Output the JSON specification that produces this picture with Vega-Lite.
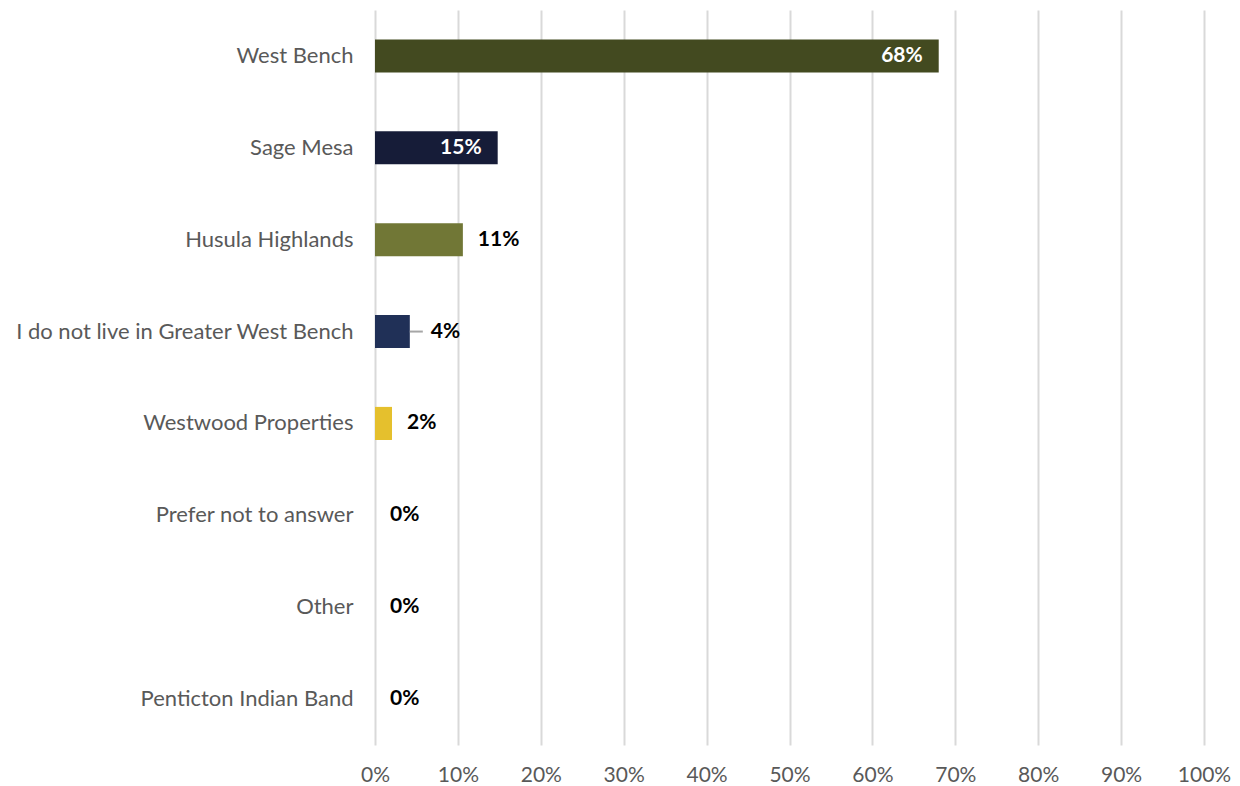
{
  "$schema": "https://vega.github.io/schema/vega-lite/v6.json",
  "autosize": "none",
  "padding": {"left": 375, "top": 10, "right": 36, "bottom": 41},
  "width": 829,
  "height": 735,
  "config": {
    "view": {"stroke": null},
    "font": "Lato"
  },
  "data": {
    "values": [
      {"area": "West Bench", "value": 0.680, "color": "#434a20"},
      {"area": "Sage Mesa", "value": 0.148, "color": "#161c38"},
      {"area": "Husula Highlands", "value": 0.106, "color": "#717736"},
      {"area": "I do not live in Greater West Bench", "value": 0.042, "color": "#203057"},
      {"area": "Westwood Properties", "value": 0.0205, "color": "#e5c02d"},
      {"area": "Prefer not to answer", "value": 0, "color": "#8a8a8a"},
      {"area": "Other", "value": 0, "color": "#8a8a8a"},
      {"area": "Penticton Indian Band", "value": 0, "color": "#8a8a8a"}
    ]
  },
  "encoding": {
    "y": {
      "field": "area", "type": "nominal", "sort": null,
      "scale": {"paddingInner": 0.64, "paddingOuter": 0.32},
      "axis": {"title": null, "domain": false, "ticks": false, "labelFontSize": 22, "labelColor": "#595959", "labelPadding": 22, "labelFont": "Lato", "labelLimit": 400}
    }
  },
  "layer": [
    {
      "mark": {"type": "bar"},
      "encoding": {
        "x": {
          "field": "value", "type": "quantitative",
          "scale": {"domain": [0, 1], "nice": false},
          "axis": {"title": null, "format": ".0%", "values": [0,0.1,0.2,0.3,0.4,0.5,0.6,0.7,0.8,0.9,1], "domain": false, "ticks": false, "grid": true, "gridColor": "#d9d9d9", "gridWidth": 2, "labelFontSize": 21, "labelColor": "#595959", "labelPadding": 19, "labelFont": "Lato", "labelFlush": false, "labelOverlap": false, "labelBound": false}
        },
        "color": {"field": "color", "type": "nominal", "scale": null}
      }
    },
    {
      "transform": [{"filter": "datum.area == 'I do not live in Greater West Bench'"}],
      "mark": {"type": "rule", "color": "#a6a6a6", "strokeWidth": 2, "x2Offset": 13},
      "encoding": {
        "x": {"field": "value", "type": "quantitative"},
        "x2": {"field": "value"}
      }
    },
    {
      "transform": [{"filter": "datum.value > 0.12"}],
      "mark": {"type": "text", "align": "right", "baseline": "middle", "dx": -16, "fontSize": 21, "fontWeight": "bold", "color": "white", "font": "Lato"},
      "encoding": {
        "x": {"field": "value", "type": "quantitative"},
        "text": {"field": "value", "type": "quantitative", "format": ".0%"}
      }
    },
    {
      "transform": [{"filter": "datum.value <= 0.12 && datum.area != 'I do not live in Greater West Bench'"}],
      "mark": {"type": "text", "align": "left", "baseline": "middle", "dx": 15, "fontSize": 21, "fontWeight": "bold", "color": "black", "font": "Lato"},
      "encoding": {
        "x": {"field": "value", "type": "quantitative"},
        "text": {"field": "value", "type": "quantitative", "format": ".0%"}
      }
    },
    {
      "transform": [{"filter": "datum.area == 'I do not live in Greater West Bench'"}],
      "mark": {"type": "text", "align": "left", "baseline": "middle", "dx": 21, "fontSize": 21, "fontWeight": "bold", "color": "black", "font": "Lato"},
      "encoding": {
        "x": {"field": "value", "type": "quantitative"},
        "text": {"field": "value", "type": "quantitative", "format": ".0%"}
      }
    }
  ]
}
